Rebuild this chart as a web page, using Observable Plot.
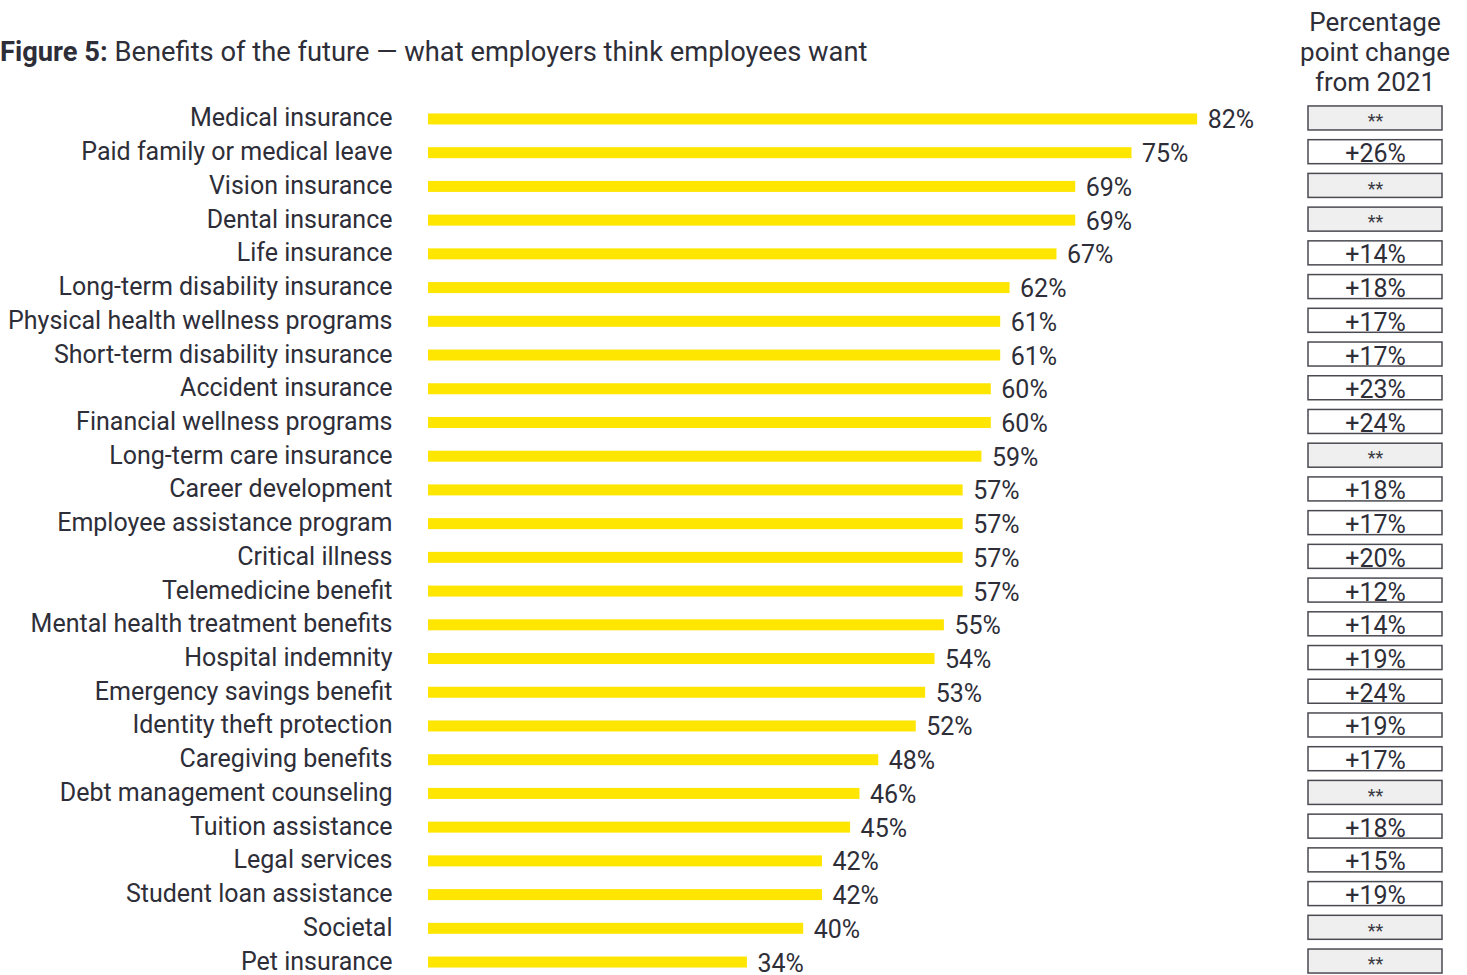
<!DOCTYPE html>
<html>
<head>
<meta charset="utf-8">
<script src="https://cdn.jsdelivr.net/npm/d3@7"></script>
<script src="https://cdn.jsdelivr.net/npm/@observablehq/plot@0.6"></script>
<style>
  html, body { margin: 0; padding: 0; background: #fff; }
  body { width: 1467px; height: 975px; position: relative; overflow: hidden; font-family: Roboto, "Noto Sans", sans-serif; color: #2e2e38; }
  #title { position: absolute; left: 0; top: 36px; font-size: 27.3px; white-space: nowrap; }
  #title b { font-weight: 700; }
  #colhead { position: absolute; left: 1285px; width: 180px; top: 7px; font-size: 26px; line-height: 30px; text-align: center; }
  #main { position: absolute; left: 0; top: 96px; }
  #chg { position: absolute; left: 0; top: 96px; }
</style>
</head>
<body>
<div id="title"><b>Figure 5:</b> Benefits of the future — what employers think employees want</div>
<div id="colhead">Percentage<br>point change<br>from 2021</div>
<div id="main"></div>
<div id="chg"></div>
<script>
const categories = [
  "Medical insurance", "Paid family or medical leave", "Vision insurance", "Dental insurance",
  "Life insurance", "Long-term disability insurance", "Physical health wellness programs",
  "Short-term disability insurance", "Accident insurance", "Financial wellness programs",
  "Long-term care insurance", "Career development", "Employee assistance program",
  "Critical illness", "Telemedicine benefit", "Mental health treatment benefits",
  "Hospital indemnity", "Emergency savings benefit", "Identity theft protection",
  "Caregiving benefits", "Debt management counseling", "Tuition assistance",
  "Legal services", "Student loan assistance", "Societal", "Pet insurance"
];
const values = [82, 75, 69, 69, 67, 62, 61, 61, 60, 60, 59, 57, 57, 57, 57, 55, 54, 53, 52, 48, 46, 45, 42, 42, 40, 34];
// percentage point change from 2021; null = "**" (not available)
const changes = [null, 26, null, null, 14, 18, 17, 17, 23, 24, null, 18, 17, 20, 12, 14, 19, 24, 19, 17, null, 18, 15, 19, null, null];

const data = categories.map((c, i) => ({category: c, value: values[i], change: changes[i]}));

const textColor = "#2e2e38";
const W = 1467, H = 879;
const yRange = [5.1, 881.9];
const rowStep = (yRange[1] - yRange[0]) / categories.length;
const barInset = (rowStep - 11) / 2;
const boxInset = (rowStep - 24) / 2;

const yScale = {domain: categories, range: yRange, padding: 0, round: false};

const main = Plot.plot({
  width: W,
  height: H,
  marginLeft: 400,
  marginRight: 0,
  marginTop: 0,
  marginBottom: 0,
  style: {fontFamily: "Roboto, 'Noto Sans', sans-serif", color: textColor, background: "transparent", overflow: "visible"},
  x: {domain: [0, 100], range: [428, 1366], axis: null},
  y: {...yScale, label: null},
  marks: [
    Plot.axisY({tickSize: 0, tickPadding: 8, fontSize: 25, label: null, fill: textColor}),
    Plot.barX(data, {y: "category", x: "value", fill: "#ffe600", insetTop: barInset + 1, insetBottom: barInset - 1}),
    Plot.text(data, {y: "category", x: "value", text: d => `${d.value}%`, dx: 10, dy: 2, textAnchor: "start", fontSize: 25, fill: textColor})
  ]
});
document.getElementById("main").appendChild(main);

const chg = Plot.plot({
  width: W,
  height: H,
  marginLeft: 0, marginRight: 0, marginTop: 0, marginBottom: 0,
  style: {fontFamily: "Roboto, 'Noto Sans', sans-serif", color: textColor, background: "transparent", overflow: "visible"},
  x: {domain: ["change"], range: [1308, 1442], padding: 0, round: false, axis: null},
  y: {...yScale, axis: null},
  marks: [
    Plot.cell(data, {x: () => "change", y: "category", fill: d => d.change == null ? "#efefef" : "#ffffff",
      stroke: "#4a4a52", strokeWidth: 1.5, insetTop: boxInset, insetBottom: boxInset}),
    Plot.text(data.filter(d => d.change != null), {x: () => "change", y: "category", text: d => `+${d.change}%`,
      fontSize: 25, dy: 2, fill: textColor}),
    Plot.text(data.filter(d => d.change == null), {x: () => "change", y: "category", text: () => "**",
      fontSize: 18, dy: 3, fill: "#3a3a44", letterSpacing: "5px"})
  ]
});
chg.style.pointerEvents = "none";
document.getElementById("chg").appendChild(chg);
</script>
</body>
</html>
